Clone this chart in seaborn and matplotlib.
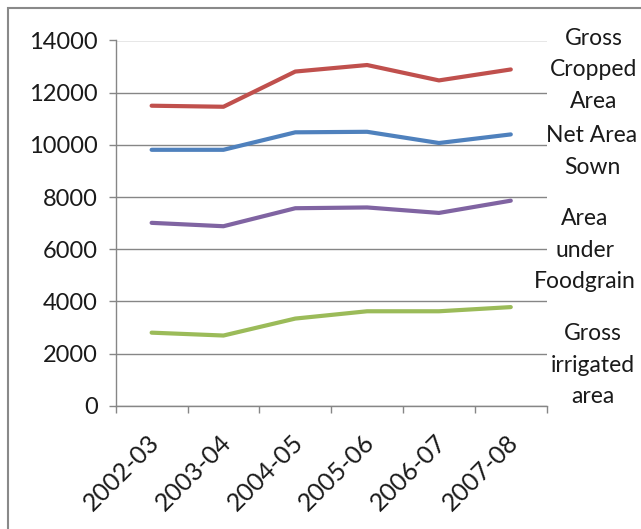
import numpy as np
import pandas as pd
import matplotlib
matplotlib.use("Agg")
import matplotlib.pyplot as plt
import matplotlib.transforms as mtransforms
from matplotlib.patches import Rectangle
import seaborn as sns

# data
years = ["2002-03", "2003-04", "2004-05", "2005-06", "2006-07", "2007-08"]
gross_cropped = [11500, 11460, 12810, 13060, 12470, 12890]
net_sown = [9810, 9810, 10480, 10500, 10070, 10400]
foodgrain = [7010, 6880, 7570, 7600, 7390, 7860]
gross_irrigated = [2800, 2690, 3340, 3620, 3620, 3780]

series_names = ["Gross Cropped Area", "Net Area Sown", "Area under Foodgrain", "Gross irrigated area"]
colors = ["#C0504D", "#4F81BD", "#8064A2", "#9BBB59"]
label_lines = [["Gross", "Cropped", "Area"], ["Net Area", "Sown"],
               ["Area", "under", "Foodgrain"], ["Gross", "irrigated", "area"]]

df = pd.DataFrame({
    "year": years * 4,
    "value": gross_cropped + net_sown + foodgrain + gross_irrigated,
    "series": np.repeat(series_names, len(years)),
})

sns.set_style("white")
plt.rcParams["font.family"] = ["Lato", "DejaVu Sans"]

W, H = 641, 529
fig = plt.figure(figsize=(W / 100, H / 100), dpi=100)
ax = fig.add_axes([115.7 / W, 1 - 405.7 / H, 431 / W, 365.2 / H])

grid_c = "#868686"
txt_c = "#1a1a1a"
sns.lineplot(data=df, x="year", y="value", hue="series", palette=colors,
             linewidth=3, legend=False, sort=False, ax=ax,
             solid_capstyle="round", solid_joinstyle="round", zorder=3)

ax.set_xlim(-0.5, 5.5)
ax.set_ylim(0, 14000)
ax.set_yticks(np.arange(0, 14001, 2000))
ax.set_xlabel("")
ax.set_ylabel("")

ax.grid(axis="y", color=grid_c, linewidth=1)
ax.grid(axis="x", visible=False)
for s in ["top", "right"]:
    ax.spines[s].set_visible(False)
for s in ["left", "bottom"]:
    ax.spines[s].set_color(grid_c)
    ax.spines[s].set_linewidth(1)

# category ticks sit between the categories (Excel style)
ax.set_xticks(np.arange(-0.5, 6, 1), minor=True)
ax.tick_params(axis="x", which="minor", length=5, width=1, color=grid_c, direction="out", bottom=True)
ax.set_xticks(range(len(years)))
ax.set_xticklabels(years, rotation=45, ha="right", va="center", rotation_mode="anchor")
ax.tick_params(axis="x", which="major", length=0, pad=24, labelsize=18, labelcolor=txt_c)
shift = mtransforms.ScaledTranslation(4 / 100, 0, fig.dpi_scale_trans)
for lbl in ax.get_xticklabels():
    lbl.set_transform(lbl.get_transform() + shift)
ax.tick_params(axis="y", length=5, width=1, color=grid_c, direction="out", left=True,
               pad=8, labelsize=17, labelcolor=txt_c)

# labels on the right
tops = [45, 142, 225, 340]
centers = [594, 592, 585, 593]
step = 31.5
for lines, top, cx in zip(label_lines, tops, centers):
    for i, t in enumerate(lines):
        fig.text(cx / W, 1 - (top + i * step) / H, t, ha="center", va="baseline",
                 fontsize=16.5, color=txt_c)

# outer frame
fig.add_artist(Rectangle((7.5 / W, -0.05), 1.1, 1 - 7.5 / H + 0.05, transform=fig.transFigure,
                         fill=False, edgecolor="#898989", linewidth=1.5))

fig.savefig("out.png", dpi=100, facecolor="white")
